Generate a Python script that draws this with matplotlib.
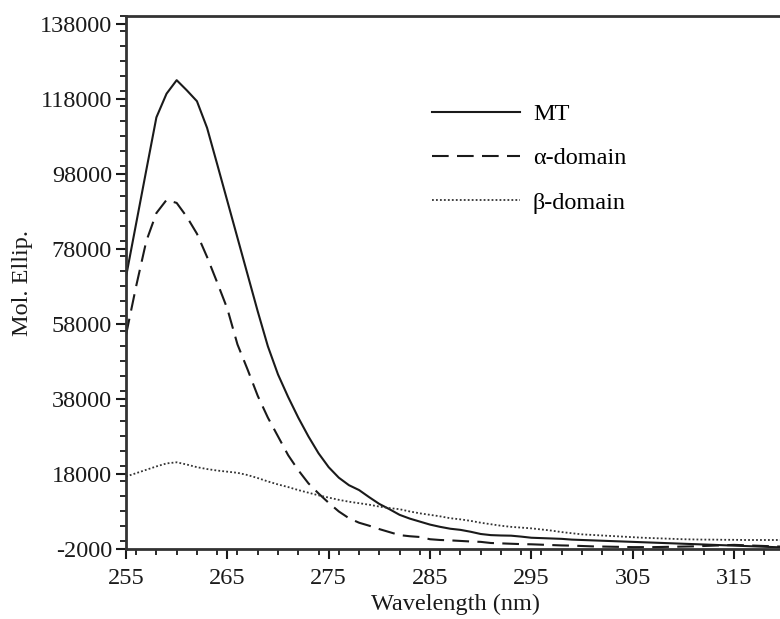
import matplotlib
matplotlib.use("Agg")
import matplotlib.pyplot as plt
from matplotlib.ticker import MultipleLocator

plt.rcParams['font.family'] = ['Liberation Serif', 'DejaVu Serif']
plt.rcParams['axes.unicode_minus'] = False

wavelength = list(range(255, 321))

mt = [70500, 84700, 98900, 113000, 119300, 122900, 120200, 117300, 110200, 100500,
      90700, 80900, 71100, 61300, 52000, 44500, 38500, 33000, 28000, 23500,
      19800, 17000, 15000, 13700, 11800, 10000, 8600, 7100, 6100, 5300,
      4500, 3900, 3400, 3100, 2600, 2000, 1700, 1600, 1550, 1300,
      1000, 900, 800, 700, 500, 400, 300, 200, 100, 0,
      -100, -200, -300, -400, -500, -600, -700, -800, -900, -1000,
      -1100, -1200, -1300, -1400, -1500, -1600]

alpha = [55000, 68000, 80000, 87500, 91000, 90200, 86500, 82000, 75800, 69000,
         62000, 52500, 45800, 38800, 33000, 28000, 23000, 19000, 15500, 12800,
         10300, 8000, 6200, 5000, 4200, 3300, 2500, 1700, 1400, 1200,
         600, 400, 300, 150, 0, -100, -400, -500, -600, -700,
         -750, -850, -950, -1050, -1100, -1200, -1300, -1350, -1400, -1450,
         -1500, -1500, -1500, -1450, -1400, -1350, -1300, -1200, -1100, -1000,
         -900, -1000, -1100, -1200, -1300, -1400]

beta = [17300, 18200, 19100, 20000, 20800, 21100, 20500, 19800, 19300, 18900,
        18600, 18300, 17700, 16900, 16000, 15200, 14500, 13700, 13000, 12300,
        11700, 11100, 10600, 10200, 9800, 9300, 8900, 8600, 8000, 7500,
        7100, 6700, 6200, 5900, 5500, 5000, 4600, 4200, 3900, 3700,
        3500, 3200, 2900, 2500, 2200, 1900, 1750, 1600, 1450, 1300,
        1150, 1000, 900, 800, 700, 600, 550, 500, 500, 450,
        450, 400, 400, 400, 400, 400]

labels = ["MT", "\u03b1-domain", "\u03b2-domain"]
x_ticks = [255, 265, 275, 285, 295, 305, 315]
y_ticks = [-2000, 18000, 38000, 58000, 78000, 98000, 118000, 138000]

fig = plt.figure(figsize=(7.8, 6.19), dpi=100)
ax = fig.add_axes([126/780, 70/619, 658.7/780, 533/619])

ax.plot(wavelength, mt, color='#1a1a1a', lw=1.5, ls='-', label=labels[0])
ax.plot(wavelength, alpha, color='#1a1a1a', lw=1.5, ls=(0, (8, 4)), label=labels[1])
ax.plot(wavelength, beta, color='#333333', lw=1.3, ls=(0, (1, 1.2)), label=labels[2])

ax.set_xlim(255, 320)
ax.set_ylim(-2000, 140000)
ax.set_xticks(x_ticks)
ax.set_yticks(y_ticks)
ax.xaxis.set_minor_locator(MultipleLocator(2))
ax.yaxis.set_minor_locator(MultipleLocator(4000))
ax.tick_params(which='major', direction='out', length=7, width=1.5, labelsize=17.5,
               colors='#1a1a1a', pad=3)
ax.tick_params(axis='x', which='major', pad=7)
ax.tick_params(which='minor', direction='out', length=4, width=1.3, colors='#1a1a1a')

for s in ['left', 'bottom', 'top']:
    ax.spines[s].set_linewidth(2.0)
    ax.spines[s].set_color('#333333')
ax.spines['right'].set_visible(False)

ax.set_xlabel("Wavelength (nm)", fontsize=17.5, color='#1a1a1a', labelpad=3)
ax.set_ylabel("Mol. Ellip.", fontsize=17.5, color='#1a1a1a', labelpad=5)

ax.legend(loc='upper left', bbox_to_anchor=(432/780, 1 - 103/619),
          bbox_transform=fig.transFigure, frameon=False, fontsize=17.5,
          handlelength=3.6, handletextpad=0.55, labelspacing=0.92,
          borderpad=0, borderaxespad=0)

fig.savefig("out.png", dpi=100)
